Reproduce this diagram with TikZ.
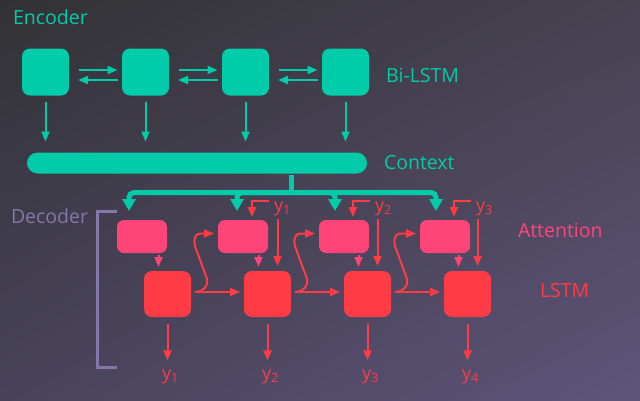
\documentclass[tikz,border=0pt]{standalone}
\usepackage{fontspec}
\setmainfont{Open Sans}
\usetikzlibrary{shapes}
\usetikzlibrary{shadings}
\usetikzlibrary{arrows.meta}
\definecolor{enccol}{RGB}{0,204,170}
\definecolor{attcol}{RGB}{255,68,120}
\definecolor{lstmcol}{RGB}{255,60,70}
\definecolor{deccol}{RGB}{134,118,170}
\definecolor{bgtl}{RGB}{50,50,53}
\definecolor{bgtr}{RGB}{70,66,80}
\definecolor{bgbl}{RGB}{72,67,90}
\definecolor{bgbr}{RGB}{95,84,122}
\newcommand{\lbl}{\fontsize{19.5}{22}\selectfont}

\begin{document}
\begin{tikzpicture}[x=1pt,y=1pt,line width=2pt,>={Triangle[length=10pt,width=8pt]}]
      \tikzstyle{every node}=[node distance=100pt,inner sep=0pt,font=\lbl]
      \tikzstyle{enc}=[fill=enccol,rounded corners=8pt,minimum width=47pt,minimum height=47pt]
      \tikzstyle{ctxbar}=[fill=enccol,rounded corners=10.5pt,minimum width=340pt,minimum height=21pt]
      \tikzstyle{att}=[fill=attcol,rounded corners=7pt,minimum width=50pt,minimum height=33pt]
      \tikzstyle{lstm}=[fill=lstmcol,rounded corners=8pt,minimum width=47pt,minimum height=46pt]
      \tikzstyle{ylab}=[text=lstmcol,font=\fontsize{18}{20}\selectfont]
      \tikzstyle{encarrow}=[->,draw=enccol]
      \tikzstyle{attarrow}=[->,draw=attcol]
      \tikzstyle{lstmarrow}=[->,draw=lstmcol]
      \tikzstyle{tree}=[draw=enccol,line width=5pt,rounded corners=5pt,-{Triangle[length=12pt,width=13pt]}]
      %
      \useasboundingbox (0,0) rectangle (640,-400);
      \shade[upper left=bgtl,upper right=bgtr,lower left=bgbl,lower right=bgbr] (0,0) rectangle (640,-400);
      %
      \node [enc] (e1) at (45.5,-72)   {};
      \node [enc] (e2) [right of=e1]   {};
      \node [enc] (e3) [right of=e2]   {};
      \node [enc] (e4) [right of=e3]   {};
      \node [ctxbar] (ctx) at (197,-163) {};
      %
      \node [att] (a1) at (142,-236.5) {};
      \node [att] (a2) [right of=a1, node distance=101pt] {};
      \node [att] (a3) [right of=a2, node distance=101pt] {};
      \node [att] (a4) [right of=a3, node distance=101pt] {};
      \node [lstm] (l1) at (167.5,-294) {};
      \node [lstm] (l2) [right of=l1]  {};
      \node [lstm] (l3) [right of=l2]  {};
      \node [lstm] (l4) [right of=l3]  {};
      %
      \node [text=enccol,anchor=west] (enctitle) at (12,-17)  {Encoder};
      \node [text=enccol,anchor=west] (bilstm)   at (385,-75) {Bi-LSTM};
      \node [text=enccol,anchor=west] (context)  at (383,-163) {Context};
      \node [text=deccol,anchor=west] (dectitle) at (10,-216) {Decoder};
      \node [text=attcol,anchor=west] (atttitle) at (517,-230) {Attention};
      \node [text=lstmcol,anchor=west] (lstmtitle) at (539,-291) {LSTM};
      %
      \foreach \i/\j in {1/2,2/3,3/4} {
        \draw [encarrow,shorten <=8.5pt,shorten >=3.5pt] ([yshift=2pt]e\i.east) -- ([yshift=2pt]e\j.west);
        \draw [encarrow,shorten <=3.5pt,shorten >=8pt]   ([yshift=-8pt]e\j.west) -- ([yshift=-8pt]e\i.east);
      }
      \foreach \i in {1,...,4}
        \draw [encarrow,shorten <=5pt,shorten >=10pt] (e\i.south) -- (e\i.south |- ctx.north);
      %
      \coordinate (fork) at (291.5,-192.5);
      \draw [draw=enccol,line width=5pt] (ctx.south -| fork) -- (fork);
      \foreach \i/\dx in {1/-13,2/-6,3/-9,4/-9}
        \draw [tree,shorten >=8pt] (fork) -| ([xshift=\dx pt]a\i.north);
      %
      \foreach \i in {1,...,4} {
        \draw [attarrow,shorten <=1pt,shorten >=3pt] ([xshift=-9pt]l\i.north |- a\i.south) -- ([xshift=-9pt]l\i.north);
        \node [ylab,anchor=base] (out\i) at ([xshift=3pt,yshift=-61pt]l\i.south) {y\textsubscript{\i}};
        \draw [lstmarrow,shorten <=6pt,shorten >=8pt] (l\i.south) -- (l\i.south |- out\i.north);
      }
      \foreach \i/\j in {1/2,2/3,3/4} {
        \node [ylab,anchor=base west] (yin\i) at ([xshift=4pt,yshift=8pt]a\j.north east) {y\textsubscript{\i}};
        \draw [lstmarrow,shorten <=4pt,shorten >=2pt] ([yshift=-1pt]yin\i.north west) -| ([xshift=9pt]a\j.north);
        \draw [lstmarrow,shorten <=3pt,shorten >=4pt] ([xshift=10pt]l\j.north |- yin\i.south) -- ([xshift=10pt]l\j.north);
        \draw [lstmarrow,shorten <=3pt,shorten >=3pt] ([yshift=2pt]l\i.east) -- ([yshift=2pt]l\j.west);
        \draw [lstmarrow,shorten >=3pt] ([xshift=4pt,yshift=2pt]l\i.east) to[out=0,in=-70] ++(11,13)
              -- ++(-12,33) to[out=110,in=180] ++(5,12.5) -- ([yshift=3pt]a\j.west);
      }
      %
      \draw [deccol,line width=3pt] (117,-211) -| (97.5,-367) -- (117,-367);
    \end{tikzpicture}
\end{document}
